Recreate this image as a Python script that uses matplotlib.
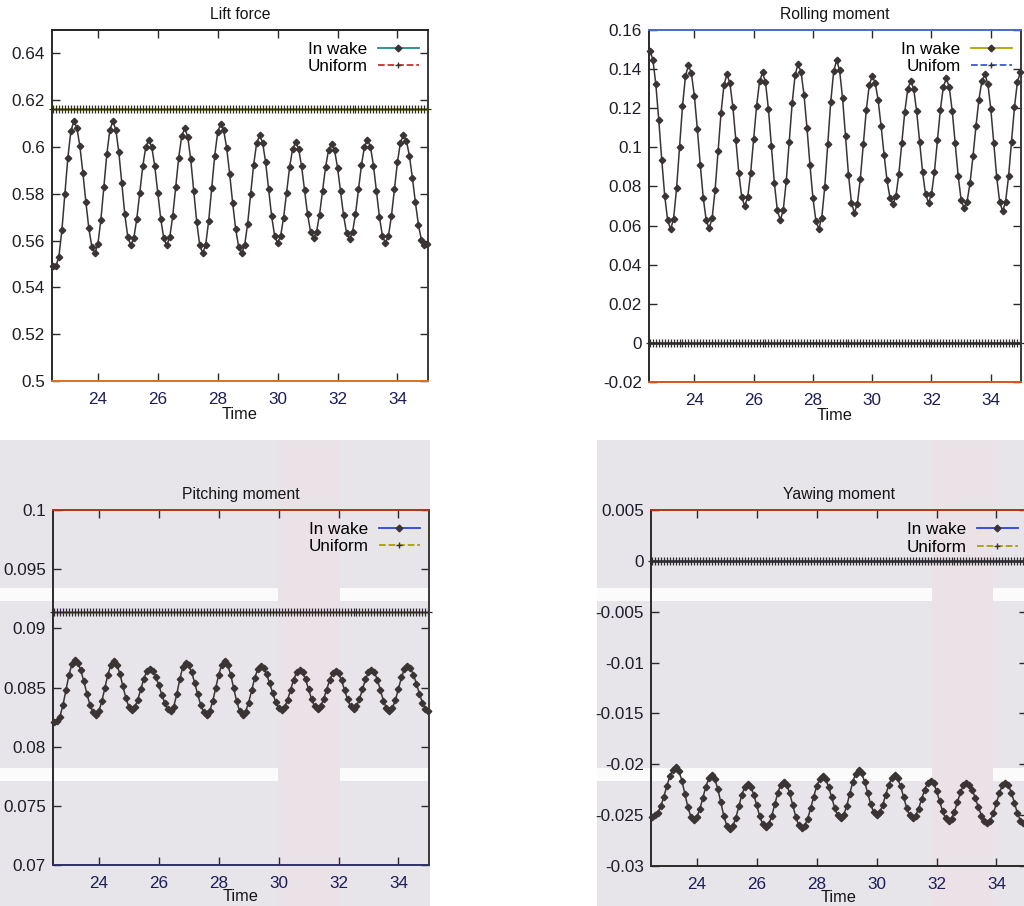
"""Four gnuplot-style panels: lift force and rolling/pitching/yawing moment, in wake vs uniform."""
import matplotlib
matplotlib.use("Agg")
import matplotlib.pyplot as plt
import numpy as np
from matplotlib.lines import Line2D
from matplotlib.patches import Rectangle
from matplotlib.ticker import FormatStrFormatter

plt.rcParams["font.family"] = ["Liberation Sans", "DejaVu Sans"]

# sampling grid of the solver output (dt = 0.1)
time = np.round(22.5 + 0.1 * np.arange(126), 1)

lift_wake = [
    0.549, 0.549, 0.5532, 0.5645, 0.580, 0.5955, 0.6068, 0.611, 0.6082, 0.6004,
    0.5891, 0.5765, 0.5652, 0.5574, 0.5546, 0.5584, 0.5687, 0.5828, 0.5969, 0.6072,
    0.611, 0.6074, 0.5978, 0.5845, 0.5712, 0.5615, 0.558, 0.561, 0.5693, 0.5805,
    0.5918, 0.600, 0.603, 0.600, 0.5918, 0.5805, 0.5693, 0.561, 0.558, 0.5614,
    0.5705, 0.583, 0.5955, 0.6047, 0.608, 0.6044, 0.5947, 0.5813, 0.568, 0.5582,
    0.5546, 0.5583, 0.5685, 0.5823, 0.5962, 0.6063, 0.610, 0.6072, 0.5996, 0.5885,
    0.5761, 0.565, 0.5574, 0.5546, 0.558, 0.5672, 0.5798, 0.5924, 0.6016, 0.605,
    0.6019, 0.5935, 0.582, 0.5705, 0.5621, 0.559, 0.5619, 0.5698, 0.5805, 0.5913,
    0.5991, 0.602, 0.5993, 0.5918, 0.5815, 0.5713, 0.5637, 0.561, 0.5637, 0.5711,
    0.5812, 0.5913, 0.5987, 0.6014, 0.5987, 0.5912, 0.5811, 0.5709, 0.5634, 0.5607,
    0.5635, 0.5713, 0.5819, 0.5924, 0.6002, 0.603, 0.6001, 0.592, 0.581, 0.570,
    0.5619, 0.559, 0.5621, 0.5705, 0.582, 0.5935, 0.6019, 0.605, 0.6027, 0.5962,
    0.5867, 0.5763, 0.5668, 0.5603, 0.558, 0.5585,
]
lift_uniform = 0.6163

roll_wake = [
    0.1495, 0.1449, 0.1323, 0.1139, 0.0936, 0.0752, 0.0626, 0.058, 0.0636, 0.079,
    0.100, 0.121, 0.1364, 0.142, 0.1378, 0.1263, 0.1095, 0.091, 0.0742, 0.0627,
    0.0585, 0.0638, 0.0782, 0.0979, 0.1176, 0.132, 0.1373, 0.1328, 0.1205, 0.1037,
    0.0868, 0.0745, 0.070, 0.0746, 0.0871, 0.1042, 0.1212, 0.1337, 0.1383, 0.1332,
    0.1194, 0.1005, 0.0816, 0.0678, 0.0627, 0.068, 0.0827, 0.1027, 0.1226, 0.1372,
    0.1426, 0.1384, 0.1268, 0.1098, 0.0911, 0.0741, 0.0625, 0.0583, 0.0641, 0.0799,
    0.1015, 0.123, 0.1388, 0.1446, 0.1394, 0.1251, 0.1056, 0.086, 0.0717, 0.0665,
    0.0712, 0.084, 0.1015, 0.1189, 0.1317, 0.1364, 0.1331, 0.1241, 0.1109, 0.0963,
    0.0831, 0.0741, 0.0708, 0.075, 0.0866, 0.1024, 0.1182, 0.1298, 0.134, 0.1298,
    0.1184, 0.1029, 0.0873, 0.0759, 0.0717, 0.076, 0.0876, 0.1035, 0.1193, 0.1309,
    0.1352, 0.1308, 0.1186, 0.102, 0.0854, 0.0732, 0.0688, 0.0722, 0.0817, 0.0954,
    0.1107, 0.1244, 0.1339, 0.1373, 0.1326, 0.1198, 0.1024, 0.0849, 0.0721, 0.0674,
    0.0722, 0.0851, 0.1029, 0.1206, 0.1336, 0.1383,
]
roll_uniform = 0.0

pitch_wake = [
    0.0821, 0.0822, 0.08254, 0.08348, 0.08475, 0.08603, 0.08696, 0.0873, 0.08707, 0.08644,
    0.08551, 0.08449, 0.08356, 0.08293, 0.0827, 0.0830, 0.08383, 0.08495, 0.08608, 0.0869,
    0.0872, 0.08693, 0.08618, 0.08515, 0.08413, 0.08338, 0.0831, 0.08333, 0.08398, 0.08485,
    0.08573, 0.08637, 0.0866, 0.08642, 0.08592, 0.0852, 0.0844, 0.08368, 0.08318, 0.083,
    0.08339, 0.08441, 0.08569, 0.08671, 0.0871, 0.08688, 0.08627, 0.08539, 0.08441, 0.08353,
    0.08292, 0.0827, 0.0830, 0.08383, 0.08495, 0.08608, 0.0869, 0.0872, 0.0869, 0.08608,
    0.08495, 0.08383, 0.0830, 0.0827, 0.08297, 0.08373, 0.08475, 0.08578, 0.08653, 0.0868,
    0.08662, 0.0861, 0.08536, 0.08454, 0.0838, 0.08329, 0.0831, 0.08333, 0.08395, 0.0848,
    0.08565, 0.08627, 0.0865, 0.08628, 0.08568, 0.08485, 0.08403, 0.08342, 0.0832, 0.08341,
    0.084, 0.0848, 0.0856, 0.08619, 0.0864, 0.08619, 0.0856, 0.0848, 0.084, 0.08341,
    0.0832, 0.08342, 0.08403, 0.08485, 0.08568, 0.08628, 0.0865, 0.08627, 0.08563, 0.08475,
    0.08388, 0.08323, 0.083, 0.08325, 0.08395, 0.0849, 0.08585, 0.08655, 0.0868, 0.08661,
    0.08609, 0.08532, 0.08448, 0.08371, 0.08319, 0.083,
]
pitch_uniform = 0.09134

yaw_wake = [
    -0.0252, -0.0250, -0.02476, -0.02412, -0.02317, -0.02213, -0.02118, -0.02054, -0.0203, -0.02065,
    -0.0216, -0.0229, -0.0242, -0.02515, -0.0255, -0.02521, -0.0244, -0.0233, -0.0222, -0.02139,
    -0.0211, -0.02146, -0.02243, -0.02375, -0.02508, -0.02604, -0.0264, -0.0261, -0.02528, -0.02415,
    -0.02303, -0.0222, -0.0219, -0.02219, -0.02298, -0.02405, -0.02513, -0.02591, -0.0262, -0.0259,
    -0.02508, -0.02395, -0.02283, -0.022, -0.0217, -0.02201, -0.02285, -0.024, -0.02515, -0.02599,
    -0.0263, -0.02604, -0.02534, -0.02432, -0.02318, -0.02216, -0.02146, -0.0212, -0.02147, -0.02223,
    -0.02325, -0.02428, -0.02503, -0.0253, -0.02499, -0.02413, -0.02295, -0.02178, -0.02091, -0.0206,
    -0.02089, -0.0217, -0.0228, -0.0239, -0.02471, -0.025, -0.02474, -0.02403, -0.02305, -0.02208,
    -0.02136, -0.0211, -0.02138, -0.02215, -0.0232, -0.02425, -0.02502, -0.0253, -0.02505, -0.02438,
    -0.02345, -0.02253, -0.02185, -0.0216, -0.02187, -0.0226, -0.0236, -0.0246, -0.02533, -0.0256,
    -0.02535, -0.02465, -0.0237, -0.02275, -0.02205, -0.0218, -0.0220, -0.02255, -0.02336, -0.02424,
    -0.02505, -0.0256, -0.0258, -0.02553, -0.0248, -0.0238, -0.0228, -0.02207, -0.0218, -0.02207,
    -0.0228, -0.0238, -0.0248, -0.02553, -0.0258, -0.0257,
]
yaw_uniform = 0.0

lift_ticks = [0.5, 0.52, 0.54, 0.56, 0.58, 0.6, 0.62, 0.64]
roll_ticks = [-0.02, 0, 0.02, 0.04, 0.06, 0.08, 0.1, 0.12, 0.14, 0.16]
pitch_ticks = [0.07, 0.075, 0.08, 0.085, 0.09, 0.095, 0.1]
yaw_ticks = [-0.03, -0.025, -0.02, -0.015, -0.01, -0.005, 0, 0.005]
time_ticks = [24, 26, 28, 30, 32, 34]

CURVE = "#3a3434"
FONT = 12.3
W, H = 1024, 906


def px_rect(x0, y0, x1, y1):
    """pixel box (top-left origin) -> figure fraction rect"""
    return [x0 / W, 1 - y1 / H, (x1 - x0) / W, (y1 - y0) / H]


def draw_panel(ax, title, wake, uniform, ylim, yticks, uni_band, leg_wake, leg_uni,
               uni_label, spine_colors, bbox, xlabelpad=0):
    n = len(time)
    ax.plot(time, [uniform] * n, color=uni_band, lw=1.8, marker="+", ms=5.5,
            mec="#2e2a2a", mew=0.9, zorder=2, clip_on=False)
    ax.plot(time, wake, color=CURVE, lw=1.1, marker="D", ms=3.3,
            mfc=CURVE, mec=CURVE, zorder=3, clip_on=False)
    ax.set_xlim(22.47, 35.02)
    ax.set_ylim(*ylim)
    ax.set_xticks(time_ticks)
    ax.set_yticks(yticks)
    ax.yaxis.set_major_formatter(FormatStrFormatter("%g"))
    ax.tick_params(direction="in", length=6, width=1.0, top=True, right=True,
                   labelsize=FONT, colors="#2a2a2a")
    ax.tick_params(axis="x", pad=8, labelcolor="#1c1c5a")
    ax.tick_params(axis="y", pad=5, labelcolor="#1e1e28")
    for side, col in spine_colors.items():
        ax.spines[side].set_color(col)
        ax.spines[side].set_linewidth(1.4)
    ax.set_title(title, fontsize=FONT - 1, pad=8, color="#151515")
    ax.set_xlabel("Time", fontsize=FONT - 0.5, labelpad=xlabelpad, color="#151515")

    handles = [
        Line2D([], [], color=leg_wake, lw=1.3, marker="D", ms=3.4, mfc=CURVE, mec=CURVE),
        Line2D([], [], color=leg_uni, lw=1.3, ls="--", marker="+", ms=5, mec=CURVE),
    ]
    ax.legend(handles, ["In wake", uni_label], loc="upper right", bbox_to_anchor=bbox,
              frameon=False, markerfirst=False, fontsize=FONT, handlelength=2.4,
              handletextpad=0.6, labelspacing=0.12, borderaxespad=0, borderpad=0)


fig = plt.figure(figsize=(W / 100, H / 100), dpi=100)
fig.patch.set_facecolor("white")

# scanned page background behind the lower panels
gray = "#e7e5e9"
pink = "#eae2e7"
for x0, x1, px0, px1 in [(0, 430, 278, 340), (597, 1024, 932, 993)]:
    fig.add_artist(Rectangle((x0 / W, 0), (x1 - x0) / W, 466 / H, transform=fig.transFigure,
                             color=gray, zorder=-10, lw=0))
    fig.add_artist(Rectangle((px0 / W, 0), (px1 - px0) / W, 466 / H, transform=fig.transFigure,
                             color=pink, zorder=-9, lw=0))
    for y0, y1 in [(588, 601), (768, 781)]:
        for sx0, sx1 in [(x0, px0), (px1, x1)]:
            fig.add_artist(Rectangle((sx0 / W, 1 - y1 / H), (sx1 - sx0) / W, (y1 - y0) / H,
                                     transform=fig.transFigure, color="#fbfbfb",
                                     zorder=-8, lw=0))

ax_lift = fig.add_axes(px_rect(52, 30, 428, 381))
ax_roll = fig.add_axes(px_rect(649, 30, 1021, 382))
ax_pitch = fig.add_axes(px_rect(53, 510, 429, 865))
ax_yaw = fig.add_axes(px_rect(651, 510, 1027, 866))
for ax in (ax_pitch, ax_yaw):
    ax.set_facecolor("none")

bbox = (0.975, 0.965)
draw_panel(ax_lift, "Lift force", lift_wake, lift_uniform, (0.5, 0.65),
           lift_ticks, "#a8a222", "#1f8c8c", "#c83030", "Uniform",
           {"top": "#222", "bottom": "#e0701a", "left": "#2a2a2a", "right": "#3a3a3a"}, bbox)
draw_panel(ax_roll, "Rolling moment", roll_wake, roll_uniform, (-0.02, 0.16),
           roll_ticks, "#2c2a3a", "#b0a200", "#3a5ad0", "Unifom",
           {"top": "#4a68c8", "bottom": "#e0501a", "left": "#2a2a2a", "right": "#3a3a3a"}, bbox)
draw_panel(ax_pitch, "Pitching moment", pitch_wake, pitch_uniform, (0.07, 0.1),
           pitch_ticks, "#a8a222", "#2a44e0", "#a8a000", "Uniform",
           {"top": "#b03418", "bottom": "#30306a", "left": "#2a2a2a", "right": "#3a3a3a"}, bbox,
           xlabelpad=-1.5)
draw_panel(ax_yaw, "Yawing moment", yaw_wake, yaw_uniform, (-0.03, 0.005),
           yaw_ticks, "#2c2c4c", "#2a44e0", "#a8a000", "Uniform",
           {"top": "#b03418", "bottom": "#2a2a2a", "left": "#2a2a2a", "right": "#3a3a3a"}, bbox,
           xlabelpad=-1.5)

fig.savefig("out.png", dpi=100)
plt.close(fig)
